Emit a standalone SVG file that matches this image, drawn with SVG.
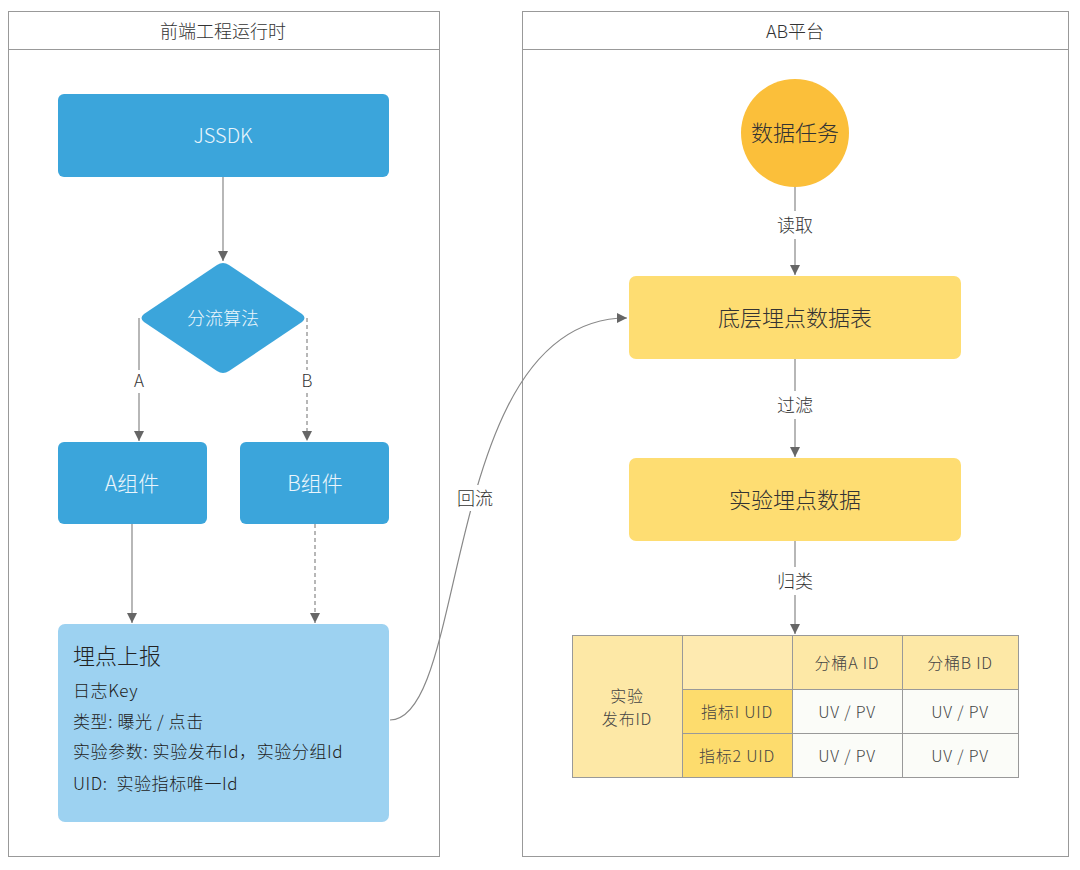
<svg xmlns="http://www.w3.org/2000/svg" width="1080" height="870" viewBox="0 0 1080 870">
<defs>
<marker id="ah" viewBox="0 0 10 10" refX="10" refY="5" markerWidth="10" markerHeight="10" markerUnits="userSpaceOnUse" orient="auto">
<path d="M0,0 L10,5 L0,10 Z" fill="#666"/>
</marker>
<style>
text{font-family:"Noto Sans CJK SC","Noto Sans",sans-serif;font-weight:300;}
.panel{fill:#fff;stroke:#999;stroke-width:1;}
.hdr{font-size:18px;fill:#333;text-anchor:middle;}
.blue{fill:#3ba5db;}
.wt{fill:#eaf5fc;text-anchor:middle;font-size:21px;}
.yel{fill:#fedd72;}
.dt{fill:#333;text-anchor:middle;}
.ln{fill:none;stroke:#888;stroke-width:1.2;}
.dash{stroke-dasharray:4 3;}
.lbl{font-size:18px;fill:#333;text-anchor:middle;}
.ab{font-size:17px;fill:#333;text-anchor:middle;}
.bt{font-size:17px;fill:#222;letter-spacing:0.6px;}
.cell{stroke:#999;stroke-width:1;}
.ct{font-size:16px;fill:#444;text-anchor:middle;letter-spacing:0.8px;}
</style>
</defs>
<rect width="1080" height="870" fill="#fff"/>
<g id="panel-left">
<rect class="panel" x="8.5" y="11.5" width="431" height="845"/>
<line x1="8.5" y1="49.5" x2="439.5" y2="49.5" stroke="#999"/>
<text class="hdr" x="223" y="38">前端工程运行时</text>
</g>
<g id="panel-right">
<rect class="panel" x="522.5" y="11.5" width="546" height="845"/>
<line x1="522.5" y1="49.5" x2="1068.5" y2="49.5" stroke="#999"/>
<text class="hdr" x="795" y="38">AB平台</text>
</g>
<g id="connectors">
<line class="ln" x1="223" y1="177" x2="223" y2="261" marker-end="url(#ah)"/>
<path class="ln" d="M139,318 V370 M139,393 V441" marker-end="url(#ah)"/>
<path class="ln dash" d="M307,318 V370 M307,393 V441" marker-end="url(#ah)"/>
<line class="ln" x1="132" y1="524" x2="132" y2="623" marker-end="url(#ah)"/>
<line class="ln dash" x1="315" y1="524" x2="315" y2="623" marker-end="url(#ah)"/>
<path class="ln" d="M390,720 C470,720 440,318 627,318" marker-end="url(#ah)"/>
<rect x="452" y="485" width="46" height="26" fill="#fff"/>
<path class="ln" d="M795,187 V211 M795,239 V275" marker-end="url(#ah)"/>
<path class="ln" d="M795,359 V391 M795,419 V457" marker-end="url(#ah)"/>
<path class="ln" d="M795,541 V567 M795,595 V634" marker-end="url(#ah)"/>
<text class="ab" x="139" y="387">A</text>
<text class="ab" x="307" y="387">B</text>
<text class="lbl" x="475" y="505">回流</text>
<text class="lbl" x="795" y="232">读取</text>
<text class="lbl" x="795" y="412">过滤</text>
<text class="lbl" x="795" y="588">归类</text>
</g>
<g id="node-jssdk">
<rect class="blue" x="58" y="94" width="331" height="83" rx="6"/>
<text class="wt" x="223" y="143" style="font-size:20px">JSSDK</text>
</g>
<g id="node-split">
<path class="blue" d="M217,265 Q223,261 229,265 L302,314 Q307,318 302,322 L229,371 Q223,375 217,371 L144,322 Q139,318 144,314 Z"/>
<text class="wt" x="223" y="325" style="font-size:18px">分流算法</text>
</g>
<g id="node-a">
<rect class="blue" x="58" y="442" width="149" height="82" rx="6"/>
<text class="wt" x="132" y="491">A组件</text>
</g>
<g id="node-b">
<rect class="blue" x="240" y="442" width="149" height="82" rx="6"/>
<text class="wt" x="315" y="491">B组件</text>
</g>
<g id="node-report">
<rect x="58" y="624" width="331" height="198" rx="7" fill="#9dd2f1"/>
<text class="bt" x="73" y="664" style="font-size:22px;letter-spacing:0">埋点上报</text>
<text class="bt" x="73" y="697">日志Key</text>
<text class="bt" x="73" y="728">类型: 曝光 / 点击</text>
<text class="bt" x="73" y="758">实验参数: 实验发布Id，实验分组Id</text>
<text class="bt" x="73" y="790" xml:space="preserve">UID:  实验指标唯一Id</text>
</g>
<g id="node-task">
<circle cx="795" cy="133" r="54" fill="#fbbf3a"/>
<text class="dt" x="795" y="141" style="font-size:22px">数据任务</text>
</g>
<g id="node-table">
<rect class="yel" x="629" y="276" width="332" height="83" rx="7"/>
<text class="dt" x="795" y="326" style="font-size:22px">底层埋点数据表</text>
</g>
<g id="node-exp">
<rect class="yel" x="629" y="458" width="332" height="83" rx="7"/>
<text class="dt" x="795" y="508" style="font-size:22px">实验埋点数据</text>
</g>
<g id="node-grid">
<rect class="cell" x="572.5" y="635.5" width="110" height="142" fill="#fde8a6"/>
<rect class="cell" x="682.5" y="635.5" width="110" height="54" fill="#feeab0"/>
<rect class="cell" x="792.5" y="635.5" width="110" height="54" fill="#fde8a6"/>
<rect class="cell" x="902.5" y="635.5" width="116" height="54" fill="#fde8a6"/>
<rect class="cell" x="682.5" y="689.5" width="110" height="44" fill="#fddc6d"/>
<rect class="cell" x="682.5" y="733.5" width="110" height="44" fill="#fddc6d"/>
<rect class="cell" x="792.5" y="689.5" width="110" height="44" fill="#fbfcf8"/>
<rect class="cell" x="902.5" y="689.5" width="116" height="44" fill="#fbfcf8"/>
<rect class="cell" x="792.5" y="733.5" width="110" height="44" fill="#fbfcf8"/>
<rect class="cell" x="902.5" y="733.5" width="116" height="44" fill="#fbfcf8"/>
<text class="ct" x="627" y="702">实验</text>
<text class="ct" x="627" y="725">发布ID</text>
<text class="ct" x="847" y="669">分桶A ID</text>
<text class="ct" x="960" y="669">分桶B ID</text>
<text class="ct" x="737" y="718">指标I UID</text>
<text class="ct" x="737" y="762">指标2 UID</text>
<text class="ct" x="847" y="718">UV / PV</text>
<text class="ct" x="960" y="718">UV / PV</text>
<text class="ct" x="847" y="762">UV / PV</text>
<text class="ct" x="960" y="762">UV / PV</text>
</g>
</svg>
